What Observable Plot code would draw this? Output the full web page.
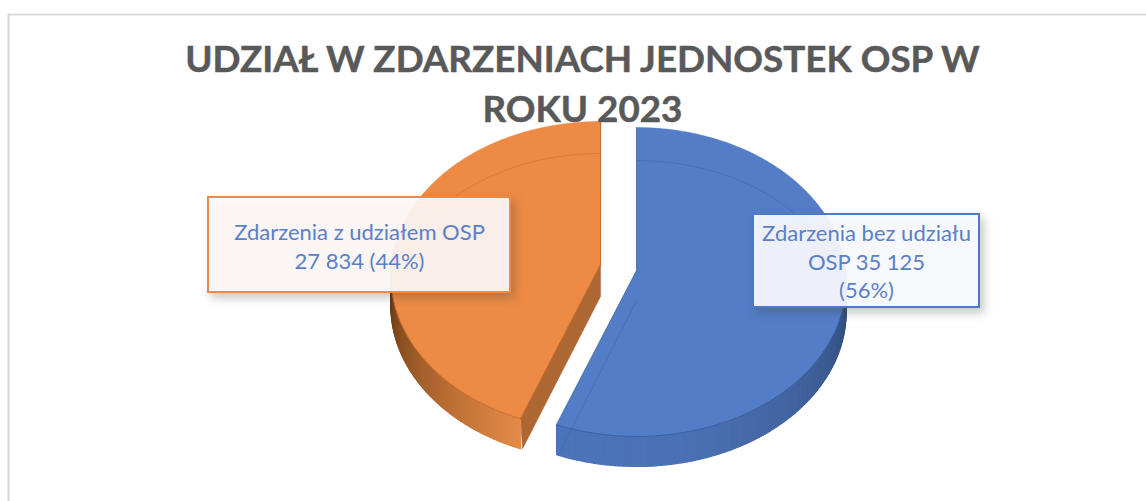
<!DOCTYPE html>
<html lang="pl">
<head>
<meta charset="utf-8">
<style>
html,body{margin:0;padding:0;background:#fff;overflow:hidden}
svg{display:block}
</style>
<script src="https://cdn.jsdelivr.net/npm/d3@7"></script>
<script src="https://cdn.jsdelivr.net/npm/@observablehq/plot@0.6"></script>
</head>
<body>
<div id="chart"></div>
<script>
// ---- data ----
const categories = ["Zdarzenia bez udziału OSP", "Zdarzenia z udziałem OSP"];
const values = [35125, 27834];
const labelTexts = ["Zdarzenia bez udziału\nOSP 35 125\n(56%)", "Zdarzenia z udziałem OSP\n27 834 (44%)"];
const titleLines = ["UDZIAŁ W ZDARZENIACH JEDNOSTEK OSP W", "ROKU 2023"];

// ---- styling / scene set-up ----
const W = 1146, H = 501;
const total = d3.sum(values);
const share = values[0] / total;
const topColors = ["#537dc7", "#ed8a45"];
const wallRamps = [["#4c74bb", "#4a70b2", "#3f5f98", "#2d4873"], ["#e48b48", "#b86c33", "#8a5022", "#5e3410"]];
const apexes = [[636, 270], [600, 264]];
const RX = 209, RY = 153.6, P = 0.0744, DEPTH = 30;

// perspective projection of a point on the unit pie rim (fraction f clockwise from 12 o'clock)
function rim(ap, f) {
  const t = 2 * Math.PI * f, u = Math.sin(t), v = Math.cos(t), w = 1 + P * v;
  return [ap[0] + RX * u / w, ap[1] - RY * v / w];
}
function arc(ap, f0, f1, n, dy = 0) {
  return d3.range(n + 1).map(i => {
    const p = rim(ap, f0 + (f1 - f0) * i / n);
    return [p[0], p[1] + dy];
  });
}
const spans = [[0, share], [share, 1]];

// top faces
const faces = spans.flatMap((s, k) => [apexes[k], ...arc(apexes[k], s[0], s[1], 160)]
  .map(p => ({x: p[0], y: p[1], z: k, c: topColors[k]})));

// outer walls as thin strips so that the shading can vary
const wallSpans = [[0.245, share], [share, 0.755]];
const strips = [];
wallSpans.forEach((s, k) => {
  const n = 160;
  const ramp = d3.scaleLinear().domain(d3.range(4).map(i => i / 3)).range(wallRamps[k]).interpolate(d3.interpolateRgb);
  d3.range(n).forEach(i => {
    const a = s[0] + (s[1] - s[0]) * i / n, b = s[0] + (s[1] - s[0]) * (i + 1) / n;
    const pa = rim(apexes[k], a), pb = rim(apexes[k], b);
    const t = k === 0 ? 1 - i / n : i / n;
    const c = ramp(t);
    [pa, pb, [pb[0], pb[1] + DEPTH], [pa[0], pa[1] + DEPTH]].forEach(p =>
      strips.push({x: p[0], y: p[1], z: k + "-" + i, c}));
  });
});

// orange cut face (visible in front of the gap)
const cutEnd = rim(apexes[1], share);
const cutFace = [apexes[1], cutEnd, [cutEnd[0] + 2, cutEnd[1] + DEPTH], [apexes[1][0], apexes[1][1] + DEPTH + 2]]
  .map(p => ({x: p[0], y: p[1]}));

// rim edges on the front, straight edges, and the faint see-through lines
const toRows = (pts, z) => pts.map(p => ({x: p[0], y: p[1], z}));
const frontEdges = [
  ...toRows(arc(apexes[0], wallSpans[0][0], wallSpans[0][1], 80), "b"),
  ...toRows(arc(apexes[1], wallSpans[1][0], wallSpans[1][1], 80), "o")
];
const straightBlue = toRows([rim(apexes[0], 0), apexes[0], rim(apexes[0], share)], "b");
const straightOrange = toRows([rim(apexes[1], 1), apexes[1], rim(apexes[1], share)], "o");
const ghostBlue = [
  ...toRows(arc(apexes[0], 0, 0.2, 40, DEPTH + 3), "a"),
  ...toRows([[apexes[0][0], apexes[0][1] + DEPTH], [rim(apexes[0], share)[0] + 2, rim(apexes[0], share)[1] + DEPTH]], "l")
];
const ghostOrange = toRows(arc(apexes[1], 1, 0.76, 50, DEPTH + 2), "a");

const boxes = [
  {x1: 753, x2: 979, y1: 214, y2: 307, fill: "#fbfcff", stroke: "#4f79c6"},
  {x1: 208, x2: 510, y1: 197, y2: 292, fill: "#fff9f6", stroke: "#ee8a48"}
];
const labelRows = labelTexts.map((text, i) => ({
  text, cat: categories[i], x: (boxes[i].x1 + boxes[i].x2) / 2, y: i === 0 ? 260 : 245
}));
const titleRows = titleLines.map((text, i) => ({text, x: 582, y: i === 0 ? 71 : 121}));

const chart = Plot.plot({
  width: W, height: H,
  margin: 0,
  x: {domain: [0, W], range: [0, W], axis: null},
  y: {domain: [0, H], range: [0, H], axis: null},
  color: {type: "identity"},
  marks: [
    Plot.ruleY([14], {x1: 8, x2: W, stroke: "#d9d9d9", strokeWidth: 2}),
    Plot.ruleX([8], {y1: 14, y2: H, stroke: "#d9d9d9", strokeWidth: 2}),
    Plot.line(cutFace, {x: "x", y: "y", fill: "#ad6732", stroke: "#a85f2b", strokeWidth: 0.5, curve: "linear-closed"}),
    Plot.line(strips, {x: "x", y: "y", z: "z", fill: "c", stroke: "c", strokeWidth: 1.2, curve: "linear-closed"}),
    Plot.line(faces, {x: "x", y: "y", z: "z", fill: "c", stroke: "c", strokeWidth: 0.5, curve: "linear-closed"}),
    Plot.line(ghostBlue, {x: "x", y: "y", z: "z", stroke: "#3f66ad", strokeWidth: 1, strokeOpacity: 0.55}),
    Plot.line(ghostOrange, {x: "x", y: "y", z: "z", stroke: "#d9722f", strokeWidth: 1, strokeOpacity: 0.7}),
    Plot.line(frontEdges.filter(d => d.z === "b"), {x: "x", y: "y", stroke: "#2f5597", strokeWidth: 1, strokeOpacity: 0.7}),
    Plot.line(frontEdges.filter(d => d.z === "o"), {x: "x", y: "y", stroke: "#b5601f", strokeWidth: 1, strokeOpacity: 0.6}),
    Plot.line(straightBlue, {x: "x", y: "y", stroke: "#3a5f9f", strokeWidth: 1, strokeOpacity: 0.6}),
    Plot.line(straightOrange, {x: "x", y: "y", stroke: "#b5601f", strokeWidth: 1, strokeOpacity: 0.8}),
    Plot.text(titleRows, {
      x: "x", y: "y", text: "text", lineAnchor: "bottom", textAnchor: "middle",
      fontFamily: "Lato", fontWeight: 700, fontSize: 36.8, fill: "#595959", stroke: "#595959", strokeWidth: 0.5
    }),
    Plot.rect(boxes, {
      x1: "x1", x2: "x2", y1: "y1", y2: "y2", fill: "fill", fillOpacity: 0.92,
      stroke: "stroke", strokeWidth: 2,
      imageFilter: "drop-shadow(4px 5px 5px rgba(60,60,60,.3))"
    }),
    Plot.text(labelRows, {
      x: "x", y: "y", text: "text", lineHeight: 1.3, textAnchor: "middle",
      fontFamily: "Lato", fontSize: 22, fill: "#5a80c9"
    })
  ]
});
document.getElementById("chart").append(chart);
</script>
</body>
</html>
